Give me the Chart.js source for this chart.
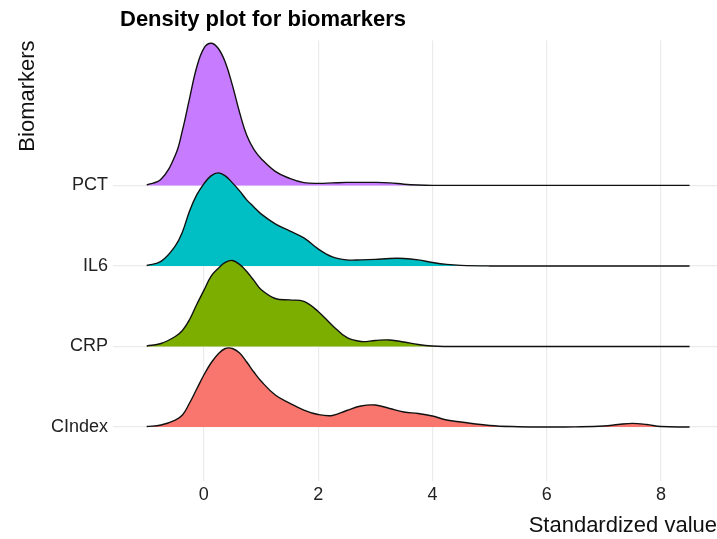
<!DOCTYPE html>
<html>
<head>
<meta charset="utf-8">
<title>Density plot for biomarkers</title>
<script src="https://cdn.jsdelivr.net/npm/chart.js@4/dist/chart.umd.min.js"></script>
<style>
  html, body { margin: 0; padding: 0; background: #ffffff; }
</style>
</head>
<body>
<canvas id="densityCanvas" width="717" height="539"></canvas>
<script>
// rows, bottom one first
var biomarkers = ['CIndex', 'CRP', 'IL6', 'PCT'];
var fillColors = ['#F8766D', '#7CAE00', '#00BFC4', '#C77CFF'];
var xTicks = [0, 2, 4, 6, 8];

// standardized value grid (shared by all rows)
var xGrid = [-1, -0.75, -0.5, -0.375, -0.25, -0.125, 0, 0.125, 0.25, 0.375, 0.5, 0.625, 0.75, 0.875,
             1, 1.25, 1.5, 1.75, 2, 2.25, 2.5, 2.75, 3, 3.25, 3.5, 3.75, 4, 4.25, 4.5,
             5, 5.5, 6, 6.5, 7, 7.25, 7.5, 7.75, 8, 8.5];

// scaled density heights (1 = one row)
var densCIndex = [0.006, 0.025, 0.087, 0.149, 0.298, 0.472, 0.646, 0.795, 0.907, 0.975, 0.975, 0.919, 0.807, 0.683,
                  0.571, 0.398, 0.298, 0.211, 0.155, 0.143, 0.205, 0.261, 0.273, 0.230, 0.186, 0.168, 0.137, 0.087, 0.062,
                  0.019, 0.004, 0, 0.002, 0.012, 0.031, 0.046, 0.031, 0.006, 0];
var densCRP = [0.006, 0.037, 0.124, 0.199, 0.335, 0.522, 0.696, 0.870, 0.969, 1.043, 1.068, 1.019, 0.932, 0.820,
               0.708, 0.596, 0.578, 0.559, 0.435, 0.261, 0.112, 0.062, 0.075, 0.081, 0.056, 0.025, 0.006, 0, 0,
               0, 0, 0, 0, 0, 0, 0, 0, 0, 0];
var densIL6 = [0.006, 0.056, 0.248, 0.422, 0.683, 0.882, 1.019, 1.118, 1.155, 1.118, 1.031, 0.932, 0.820, 0.733,
               0.646, 0.522, 0.435, 0.348, 0.211, 0.112, 0.075, 0.075, 0.081, 0.093, 0.093, 0.075, 0.043, 0.019, 0.007,
               0, 0, 0, 0, 0, 0, 0, 0, 0, 0];
var densPCT = [0.006, 0.075, 0.373, 0.683, 1.081, 1.466, 1.702, 1.764, 1.702, 1.528, 1.242, 0.907, 0.621, 0.447,
               0.335, 0.174, 0.087, 0.035, 0.025, 0.031, 0.037, 0.037, 0.037, 0.031, 0.015, 0.005, 0, 0, 0,
               0, 0, 0, 0, 0, 0, 0, 0, 0, 0];

var densities = [densCIndex, densCRP, densIL6, densPCT];

var baseFont = '"Liberation Sans", Arial, Helvetica, sans-serif';
var gridColor = '#EBEBEB';

// first dataset is drawn on top, so the bottom row covers the ones above it
var datasets = biomarkers.map(function (name, i) {
    var baseline = i + 1;
    return {
        label: name,
        data: xGrid.map(function (x, j) { return { x: x, y: baseline + densities[i][j] }; }),
        backgroundColor: fillColors[i],
        borderColor: '#111111',
        borderWidth: 1.4,
        pointRadius: 0,
        tension: 0.4,
        fill: { value: baseline }
    };
});

// nudge the title to line up with the panel like ggplot does
var titleNudge = {
    id: 'titleNudge',
    afterLayout: function (chart) {
        if (chart.titleBlock) {
            chart.titleBlock.left += 7;
            chart.titleBlock.right += 7;
        }
    }
};

new Chart(document.getElementById('densityCanvas'), {
    type: 'line',
    data: { datasets: datasets },
    plugins: [titleNudge],
    options: {
        responsive: false,
        animation: false,
        devicePixelRatio: 1,
        layout: { padding: 0 },
        plugins: {
            legend: { display: false },
            tooltip: { enabled: false },
            title: {
                display: true,
                text: 'Density plot for biomarkers',
                align: 'start',
                fullSize: false,
                color: '#000000',
                font: { family: baseFont, size: 22, weight: 'bold' },
                padding: { top: 7, bottom: 7 }
            }
        },
        scales: {
            x: {
                type: 'linear',
                min: -1.59,
                max: 8.98,
                afterBuildTicks: function (scale) {
                    scale.ticks = xTicks.map(function (v) { return { value: v }; });
                },
                afterFit: function (scale) { scale.height = 58; },
                grid: { color: gridColor, lineWidth: 1.2, drawTicks: false },
                border: { display: false },
                ticks: {
                    color: '#222222',
                    padding: 3,
                    maxRotation: 0,
                    font: { family: baseFont, size: 18 }
                },
                title: {
                    display: true,
                    text: 'Standardized value',
                    align: 'end',
                    color: '#111111',
                    font: { family: baseFont, size: 22 },
                    padding: { top: 0, bottom: 0 }
                }
            },
            y: {
                type: 'linear',
                min: 0.33,
                max: 5.8,
                afterBuildTicks: function (scale) {
                    scale.ticks = biomarkers.map(function (b, i) { return { value: i + 1 }; });
                },
                afterFit: function (scale) { scale.width = 113; },
                grid: { color: gridColor, lineWidth: 1.2, drawTicks: false },
                border: { display: false },
                ticks: {
                    color: '#222222',
                    padding: 5,
                    font: { family: baseFont, size: 18 },
                    callback: function (v) { return biomarkers[v - 1]; }
                },
                title: {
                    display: true,
                    text: 'Biomarkers',
                    align: 'end',
                    color: '#111111',
                    font: { family: baseFont, size: 22 },
                    padding: { top: 15, bottom: 0 }
                }
            }
        }
    }
});
</script>
</body>
</html>
